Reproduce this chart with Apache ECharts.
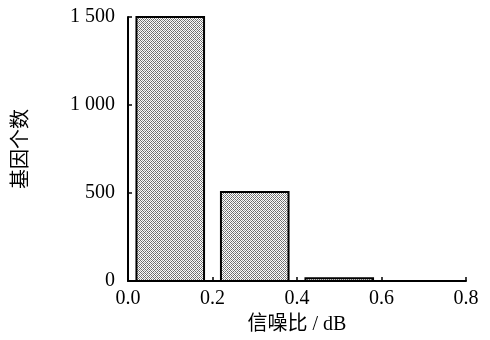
<!DOCTYPE html>
<html><head><meta charset="utf-8">
<script src="https://cdn.jsdelivr.net/npm/echarts@6/dist/echarts.min.js"></script>
<style>html,body{margin:0;padding:0;background:#fff}#c{width:490px;height:340px}</style>
</head><body><div id="c"></div>
<script>
const binStart = [0.02, 0.22, 0.42];
const binEnd = [0.18, 0.38, 0.58];
const counts = [1500, 505, 15];
const xTicks = [0.0, 0.2, 0.4, 0.6, 0.8];
const yTicks = [0, 500, 1000, 1500];
const xName = '信噪比 / dB';
const yName = '基因个数';

const pc = document.createElement('canvas');
pc.width = 4; pc.height = 4;
const g = pc.getContext('2d');
g.fillStyle = '#ffffff'; g.fillRect(0,0,4,4);
g.fillStyle = '#6e6e6e';
g.fillRect(0,0,1,1); g.fillRect(2,2,1,1); g.fillRect(1,1,1,1); g.fillRect(3,3,1,1);
g.fillRect(3,1,1,1); g.fillRect(1,3,1,1);
g.fillStyle = '#a8a8a8';
g.fillRect(2,0,1,1); g.fillRect(0,2,1,1);

const data = counts.map((c,i)=>[binStart[i], binEnd[i], c]);
const font = '"Liberation Serif", "Times New Roman", "Noto Sans CJK SC", serif';
const chart = echarts.init(document.getElementById('c'), null, {renderer:'canvas'});
chart.setOption({
  animation:false,
  grid:{left:128, right:24, top:17, bottom:57},
  xAxis:{type:'value', min:0, max:0.8, interval:0.2,
    name:xName, nameLocation:'middle', nameGap:34,
    nameTextStyle:{fontFamily:font, fontSize:20, color:'#000'},
    axisLine:{lineStyle:{color:'#000', width:2}},
    axisTick:{inside:true, length:4, lineStyle:{color:'#000', width:1.5}},
    axisLabel:{fontFamily:font, fontSize:20, color:'#000', margin:8, formatter:v=>v.toFixed(1)},
    splitLine:{show:false}},
  yAxis:{type:'value', min:0, max:1500, interval:500,
    name:yName, nameLocation:'middle', nameGap:96, nameRotate:90,
    nameTextStyle:{fontFamily:font, fontSize:20, color:'#000'},
    axisLine:{show:true, lineStyle:{color:'#000', width:2}},
    axisTick:{show:true, inside:true, length:4, lineStyle:{color:'#000', width:1.5}},
    axisLabel:{fontFamily:font, fontSize:20, color:'#000', margin:13,
      formatter:v=>String(v).replace(/\B(?=(\d{3})+(?!\d))/g,' ')},
    splitLine:{show:false}},
  series:[{type:'custom', data:data,
    renderItem:(params, api)=>{
      const p0 = api.coord([api.value(0), 0]);
      const p1 = api.coord([api.value(1), api.value(2)]);
      return {type:'rect', shape:{x:p0[0], y:p1[1], width:p1[0]-p0[0], height:p0[1]-p1[1]},
        style:{fill:{image:pc, repeat:'repeat'}, stroke:'#000', lineWidth:2}};
    }}]
});
</script></body></html>
